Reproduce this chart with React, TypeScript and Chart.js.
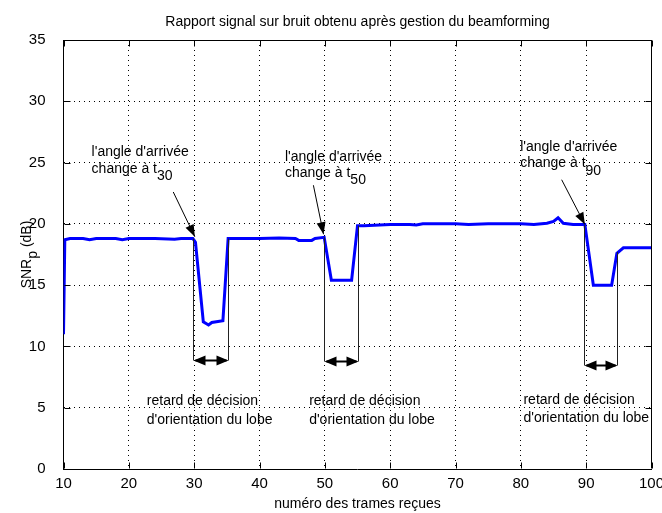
import React, { useEffect, useRef } from "react";
import { Chart, registerables } from "chart.js";

Chart.register(...registerables);

// ---- data ----
const frames = [
  10, 10.2, 11, 13, 14, 15, 18, 19, 20, 24, 27, 28, 29.8,
  30.2, 31.4, 32.2, 32.7, 34.4, 35.2,
  36, 40, 43, 45.5, 46, 48, 48.5, 49.9,
  51.0, 54.1, 55.0, 56, 60, 63, 64, 65, 70, 72, 75, 80, 82, 84, 85, 85.7, 86.5, 88, 89.8,
  91.1, 93.9, 94.7, 95.7, 100,
];
const snr = [
  11.0, 18.7, 18.8, 18.8, 18.7, 18.8, 18.8, 18.7, 18.8, 18.8, 18.75, 18.8, 18.8,
  18.5, 12.0, 11.75, 11.95, 12.1, 18.8,
  18.8, 18.8, 18.85, 18.8, 18.65, 18.65, 18.8, 18.9,
  15.4, 15.4, 19.85, 19.85, 19.95, 19.95, 19.9, 20.0, 20.0, 19.95, 20.0, 20.0, 19.95, 20.05, 20.2, 20.5, 20.05, 19.95, 19.95,
  15.0, 15.0, 17.6, 18.05, 18.05,
];
const xTicks = [10, 20, 30, 40, 50, 60, 70, 80, 90, 100];
const yTicks = [0, 5, 10, 15, 20, 25, 30, 35];

const titleText = "Rapport signal sur bruit obtenu après gestion du beamforming";
const xTitle = "numéro des trames reçues";
const yTitleMain = "SNR";
const yTitleSub = "p";
const yTitleTail = " (dB)";

// annotations (data coordinates)
const changeLine1 = "l'angle d'arrivée";
const changeLine2 = "change à t";
const changeSubs = ["30", "50", "90"];
const changeTextX = [14.3, 43.9, 79.9];
const changeTextY1 = [25.55, 25.15, 25.95];
const changeTextY2 = [24.15, 23.85, 24.6];
const pointerFromX = [26.8, 48.25, 86.25];
const pointerFromY = [22.6, 23.15, 23.6];
const pointerToX = [30.1, 49.8, 89.8];
const pointerToY = [18.95, 19.15, 19.95];

const delayStartX = [29.8, 49.9, 89.6];
const delayStartTop = [18.8, 18.9, 19.9];
const delayEndX = [35.2, 55.0, 94.7];
const delayEndTop = [18.8, 19.85, 17.7];
const delayArrowY = [8.9, 8.8, 8.5];
const delayLine1 = "retard de décision";
const delayLine2 = "d'orientation du lobe";
const delayTextX = [22.75, 47.6, 80.4];
const delayTextY1 = [5.22, 5.22, 5.3];
const delayTextY2 = [3.65, 3.65, 3.8];

const FONT = '"Liberation Sans", Arial, sans-serif';
const NARROW = '"Liberation Sans Narrow", "Liberation Sans", sans-serif';

function arrowHead(ctx: CanvasRenderingContext2D, x1: number, y1: number, x2: number, y2: number, len: number, half: number) {
  const ang = Math.atan2(y2 - y1, x2 - x1);
  const bx = x2 - len * Math.cos(ang);
  const by = y2 - len * Math.sin(ang);
  const nx = -Math.sin(ang) * half;
  const ny = Math.cos(ang) * half;
  ctx.beginPath();
  ctx.moveTo(x2, y2);
  ctx.lineTo(bx + nx, by + ny);
  ctx.lineTo(bx - nx, by - ny);
  ctx.closePath();
  ctx.fill();
}

const overlayPlugin = {
  id: "overlay",
  afterDraw(chart: any) {
    const { ctx, chartArea: a, scales } = chart;
    const xs = scales.x;
    const ys = scales.y;
    const px = (v: number) => xs.getPixelForValue(v);
    const py = (v: number) => ys.getPixelForValue(v);
    ctx.save();

    // box + inward ticks
    ctx.strokeStyle = "#000";
    ctx.lineWidth = 1;
    const L = Math.round(a.left) + 0.5;
    const R = Math.round(a.right) - 0.5;
    const T = Math.round(a.top) + 0.5;
    const B = Math.round(a.bottom) - 0.5;
    ctx.beginPath();
    ctx.moveTo(L, T);
    ctx.lineTo(R, T);
    ctx.lineTo(R, B);
    ctx.stroke();
    const tl = 6;
    ctx.beginPath();
    xTicks.forEach((v) => {
      const x = Math.round(px(v)) + 0.5;
      ctx.moveTo(x, B);
      ctx.lineTo(x, B - tl);
      ctx.moveTo(x, T);
      ctx.lineTo(x, T + tl);
    });
    yTicks.forEach((v) => {
      const y = Math.round(py(v)) + 0.5;
      ctx.moveTo(L, y);
      ctx.lineTo(L + tl, y);
      ctx.moveTo(R, y);
      ctx.lineTo(R - tl, y);
    });
    ctx.stroke();

    // title
    ctx.fillStyle = "#000";
    ctx.font = `14px ${FONT}`;
    ctx.textAlign = "center";
    ctx.textBaseline = "alphabetic";
    ctx.fillText(titleText, (a.left + a.right) / 2, 26);

    // y title with subscript
    ctx.save();
    ctx.translate(31, (a.top + a.bottom) / 2);
    ctx.rotate(-Math.PI / 2);
    ctx.font = `14px ${FONT}`;
    ctx.textAlign = "left";
    const w1 = ctx.measureText(yTitleMain).width;
    const w2 = ctx.measureText(yTitleSub).width;
    const w3 = ctx.measureText(yTitleTail).width;
    const start = -(w1 + w2 + w3) / 2;
    ctx.fillText(yTitleMain, start, 0);
    ctx.fillText(yTitleSub, start + w1, 6);
    ctx.fillText(yTitleTail, start + w1 + w2, 0);
    ctx.restore();

    // change-of-angle annotations
    ctx.font = `14px ${FONT}`;
    ctx.textAlign = "left";
    ctx.textBaseline = "alphabetic";
    for (let i = 0; i < changeSubs.length; i++) {
      const tx = px(changeTextX[i]);
      ctx.fillText(changeLine1, tx, py(changeTextY1[i]));
      const y2 = py(changeTextY2[i]);
      ctx.fillText(changeLine2, tx, y2);
      const cw = ctx.measureText(changeLine2).width;
      ctx.fillText(changeSubs[i], tx + cw, y2 + 7.5);

      const x1 = px(pointerFromX[i]);
      const y1 = py(pointerFromY[i]);
      const x2 = px(pointerToX[i]);
      const yy2 = py(pointerToY[i]);
      ctx.strokeStyle = "#000";
      ctx.lineWidth = 1;
      ctx.beginPath();
      ctx.moveTo(x1, y1);
      ctx.lineTo(x2, yy2);
      ctx.stroke();
      arrowHead(ctx, x1, y1, x2, yy2, 12, 4.5);
    }

    // delay markers
    for (let i = 0; i < delayStartX.length; i++) {
      const xa = Math.round(px(delayStartX[i])) + 0.5;
      const xb = Math.round(px(delayEndX[i])) + 0.5;
      const ya = Math.round(py(delayArrowY[i])) + 0.5;
      ctx.strokeStyle = "#222";
      ctx.lineWidth = 1;
      ctx.beginPath();
      ctx.moveTo(xa, py(delayStartTop[i]));
      ctx.lineTo(xa, ya);
      ctx.moveTo(xb, py(delayEndTop[i]));
      ctx.lineTo(xb, ya);
      ctx.stroke();
      ctx.strokeStyle = "#000";
      ctx.lineWidth = 2;
      ctx.beginPath();
      ctx.moveTo(xa + 2, ya);
      ctx.lineTo(xb - 2, ya);
      ctx.stroke();
      ctx.fillStyle = "#000";
      arrowHead(ctx, xb, ya, xa, ya, 12, 5);
      arrowHead(ctx, xa, ya, xb, ya, 12, 5);

      ctx.font = `14px ${FONT}`;
      ctx.textAlign = "left";
      ctx.fillText(delayLine1, px(delayTextX[i]), py(delayTextY1[i]));
      ctx.fillText(delayLine2, px(delayTextX[i]), py(delayTextY2[i]));
    }
    ctx.restore();
  },
};

export default function App() {
  const ref = useRef<HTMLCanvasElement | null>(null);
  useEffect(() => {
    if (!ref.current) return;
    const chart = new Chart(ref.current, {
      type: "line",
      data: {
        datasets: [
          {
            data: frames.map((x, i) => ({ x, y: snr[i] })),
            borderColor: "#0000ff",
            borderWidth: 3,
            pointRadius: 0,
            tension: 0,
            fill: false,
          },
        ],
      },
      options: {
        responsive: false,
        animation: false,
        events: [],
        layout: { padding: { left: 0, right: 10.5, top: 40, bottom: 0 } },
        plugins: { legend: { display: false }, title: { display: false }, tooltip: { enabled: false } },
        scales: {
          x: {
            type: "linear",
            min: 10,
            max: 100,
            afterBuildTicks: (s: any) => {
              s.ticks = xTicks.map((v) => ({ value: v }));
            },
            afterFit: (s: any) => {
              s.height = 44;
              s.paddingLeft = 0;
              s.paddingRight = 0;
            },
            ticks: {
              autoSkip: false,
              maxRotation: 0,
              padding: 6,
              color: "#000",
              font: { family: NARROW, size: 15 },
            },
            grid: { color: "#000", lineWidth: 1, drawTicks: false },
            border: { display: true, color: "#000", width: 1, dash: [1, 4] },
            title: {
              display: true,
              text: xTitle,
              color: "#000",
              font: { family: FONT, size: 14 },
              padding: { top: 0, bottom: 0 },
            },
          },
          y: {
            type: "linear",
            min: 0,
            max: 35,
            afterBuildTicks: (s: any) => {
              s.ticks = yTicks.map((v) => ({ value: v }));
            },
            afterFit: (s: any) => {
              s.width = 63.5;
              s.paddingTop = 0;
              s.paddingBottom = 0;
            },
            ticks: {
              padding: 18,
              color: "#000",
              font: { family: NARROW, size: 15 },
            },
            grid: { color: "#000", lineWidth: 1, drawTicks: false },
            border: { display: true, color: "#000", width: 1, dash: [1, 4] },
          },
        },
      },
      plugins: [overlayPlugin],
    } as any);
    return () => chart.destroy();
  }, []);
  return (
    <div style={{ position: "fixed", left: 0, top: 0, width: 662, height: 513, background: "#fff" }}>
      <canvas ref={ref} width={662} height={513} style={{ display: "block" }} />
    </div>
  );
}
